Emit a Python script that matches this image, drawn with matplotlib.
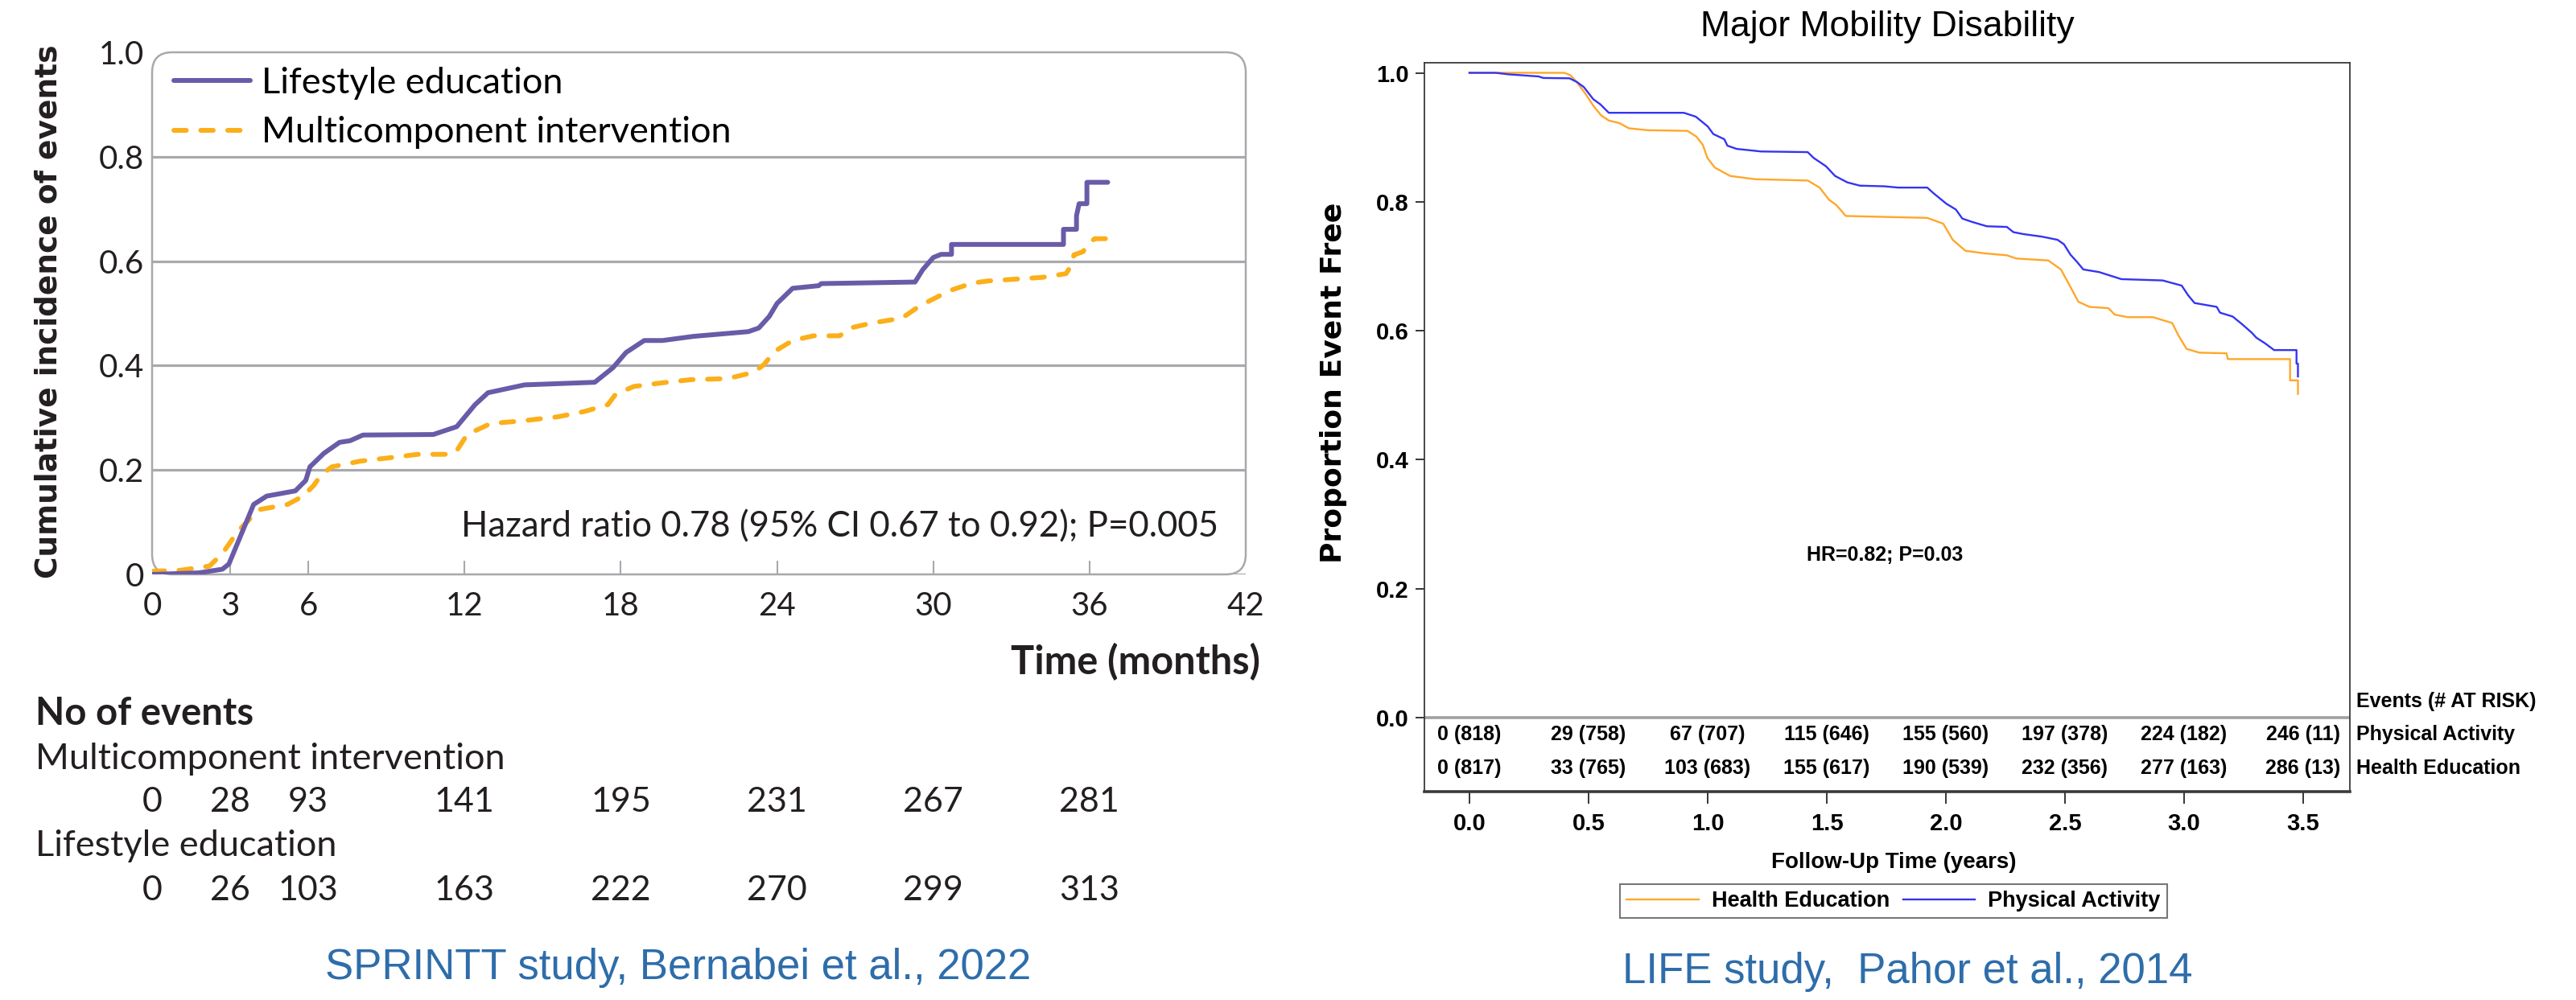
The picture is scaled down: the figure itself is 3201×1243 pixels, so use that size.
import matplotlib
matplotlib.use("Agg")
import matplotlib.pyplot as plt
from matplotlib.patches import FancyBboxPatch
from matplotlib.lines import Line2D
from matplotlib.transforms import blended_transform_factory

# ---------------- data: SPRINTT (left) ----------------
months_ticks = [0, 3, 6, 12, 18, 24, 30, 36, 42]
table_months = [0, 3, 6, 12, 18, 24, 30, 36]
events_mc = [0, 28, 93, 141, 195, 231, 267, 281]
events_le = [0, 26, 103, 163, 222, 270, 299, 313]

le_points = [(0, 0.0), (1.8, 0.003), (2.7, 0.01), (2.95, 0.02), (3.9, 0.134), (4.4, 0.15),
             (5.5, 0.16), (5.9, 0.18), (6.06, 0.206), (6.6, 0.232), (7.2, 0.253), (7.6, 0.256),
             (8.1, 0.267), (10.8, 0.268), (11.7, 0.283), (12.4, 0.325), (12.9, 0.348),
             (14.3, 0.363), (17.0, 0.368), (17.7, 0.396), (18.2, 0.425), (18.9, 0.448),
             (19.6, 0.448), (20.8, 0.456), (22.9, 0.465), (23.3, 0.472), (23.7, 0.494),
             (24.0, 0.519), (24.6, 0.548), (25.6, 0.553), (25.7, 0.557), (29.3, 0.56),
             (29.6, 0.584), (30.0, 0.607), (30.3, 0.613), (30.7, 0.613), (30.7, 0.632),
             (35.0, 0.632), (35.0, 0.661), (35.5, 0.661), (35.5, 0.687), (35.6, 0.71),
             (35.9, 0.71), (35.9, 0.751), (36.7, 0.751)]

mc_points = [(0, 0.006), (1.1, 0.008), (2.2, 0.016), (2.7, 0.04), (3.3, 0.083), (4.1, 0.124),
             (5.2, 0.134), (5.8, 0.15), (6.2, 0.17), (6.5, 0.191), (6.9, 0.206), (8.0, 0.217),
             (9.4, 0.225), (10.2, 0.23), (11.45, 0.23), (11.7, 0.237), (12.1, 0.268),
             (13.0, 0.289), (14.2, 0.294), (15.6, 0.302), (16.6, 0.312), (17.5, 0.325),
             (17.8, 0.345), (18.5, 0.36), (19.6, 0.367), (20.7, 0.373), (22.1, 0.375),
             (23.1, 0.387), (23.5, 0.402), (23.9, 0.427), (24.6, 0.448), (25.4, 0.457),
             (26.4, 0.457), (26.9, 0.473), (27.6, 0.481), (28.8, 0.491), (29.5, 0.515),
             (30.1, 0.530), (30.6, 0.543), (31.5, 0.558), (32.1, 0.562), (34.2, 0.569),
             (35.1, 0.576), (35.3, 0.592), (35.4, 0.612), (35.75, 0.618), (35.95, 0.633),
             (36.2, 0.643), (36.7, 0.643)]

# ---------------- data: LIFE (right) ----------------
years_ticks = [0.0, 0.5, 1.0, 1.5, 2.0, 2.5, 3.0, 3.5]
pa_events = [0, 29, 67, 115, 155, 197, 224, 246]
pa_risk = [818, 758, 707, 646, 560, 378, 182, 11]
he_events = [0, 33, 103, 155, 190, 232, 277, 286]
he_risk = [817, 765, 683, 617, 539, 356, 163, 13]

pa_points = [(0, 1.0), (0.11, 1.0), (0.165, 0.9976), (0.29, 0.9944), (0.31, 0.992),
             (0.42, 0.9915), (0.45, 0.986), (0.48, 0.978), (0.52, 0.959), (0.55, 0.951),
             (0.585, 0.938), (0.90, 0.938), (0.95, 0.932), (1.0, 0.917), (1.024, 0.905),
             (1.07, 0.897), (1.083, 0.887), (1.122, 0.882), (1.225, 0.878), (1.42, 0.877),
             (1.445, 0.868), (1.497, 0.855), (1.535, 0.840), (1.587, 0.830), (1.639, 0.825),
             (1.742, 0.824), (1.80, 0.822), (1.922, 0.822), (1.949, 0.813), (2.002, 0.797),
             (2.042, 0.788), (2.069, 0.774), (2.108, 0.769), (2.172, 0.762), (2.256, 0.761),
             (2.283, 0.753), (2.323, 0.750), (2.402, 0.746), (2.469, 0.741), (2.496, 0.734),
             (2.523, 0.718), (2.55, 0.707), (2.577, 0.695), (2.643, 0.691), (2.737, 0.680),
             (2.91, 0.678), (2.99, 0.670), (3.017, 0.655), (3.044, 0.643), (3.137, 0.637),
             (3.151, 0.628), (3.204, 0.622), (3.244, 0.610), (3.284, 0.597), (3.304, 0.589),
             (3.338, 0.581), (3.378, 0.570), (3.472, 0.570), (3.472, 0.549), (3.478, 0.549),
             (3.478, 0.529)]

he_points = [(0, 1.0), (0.398, 1.0), (0.423, 0.9965), (0.45, 0.986), (0.488, 0.967),
             (0.52, 0.949), (0.553, 0.934), (0.585, 0.926), (0.63, 0.922), (0.669, 0.914),
             (0.747, 0.911), (0.915, 0.910), (0.953, 0.901), (0.98, 0.888), (0.999, 0.868),
             (1.03, 0.853), (1.095, 0.840), (1.199, 0.835), (1.42, 0.833), (1.47, 0.822),
             (1.51, 0.803), (1.54, 0.795), (1.58, 0.778), (1.80, 0.776), (1.922, 0.775),
             (1.989, 0.766), (2.029, 0.741), (2.082, 0.724), (2.162, 0.720), (2.256, 0.717),
             (2.296, 0.712), (2.43, 0.709), (2.483, 0.695), (2.523, 0.668), (2.556, 0.645),
             (2.603, 0.637), (2.682, 0.635), (2.709, 0.625), (2.763, 0.621), (2.87, 0.621),
             (2.95, 0.612), (2.976, 0.593), (3.01, 0.572), (3.064, 0.566), (3.178, 0.565),
             (3.184, 0.556), (3.445, 0.556), (3.445, 0.523), (3.478, 0.523), (3.478, 0.502)]

# ---------------- figure ----------------
W, H = 3201, 1243
fig = plt.figure(figsize=(W / 100, H / 100), dpi=100)
fig.patch.set_facecolor("white")

def fx(x):
    return x / W

def fy(y):
    return 1 - y / H

LATO = ["Lato", "DejaVu Sans"]
ARIAL = ["Liberation Sans", "DejaVu Sans"]
TXT = "#231F20"
GRAY = "#A7A9AC"
PURPLE = "#6A5BA8"
ORANGE = "#FBAF1A"
CAPBLUE = "#2E6DAA"

# ---------------- left panel ----------------
axL = fig.add_axes([fx(189), fy(714), fx(1359), 649 / H])
axL.set_xlim(0, 42)
axL.set_ylim(0, 1)
axL.patch.set_visible(False)
for s in axL.spines.values():
    s.set_visible(False)

box = FancyBboxPatch((0, 0), 1, 1, boxstyle="round,pad=0,rounding_size=0.0184",
                     mutation_aspect=1359 / 649, transform=axL.transAxes,
                     facecolor="none", edgecolor=GRAY, lw=1.8, clip_on=False, zorder=1)
axL.add_patch(box)
for g in [0.2, 0.4, 0.6, 0.8]:
    axL.axhline(g, color=GRAY, lw=2.3, zorder=1)
axL.axhline(0, xmin=0.015, color=GRAY, lw=2.3, zorder=1)

le_x, le_y = zip(*le_points)
mc_x, mc_y = zip(*mc_points)
l_le, = axL.plot(le_x, le_y, color=PURPLE, lw=4.3, solid_capstyle="round",
                 solid_joinstyle="round", zorder=3, label="Lifestyle education")
l_mc, = axL.plot(mc_x, mc_y, color=ORANGE, lw=4.3, ls=(0, (2.6, 3.0)),
                 dash_capstyle="round", zorder=2, label="Multicomponent intervention")

axL.set_xticks(months_ticks)
axL.set_xticklabels([str(m) for m in months_ticks], fontfamily=LATO, color=TXT)
axL.set_yticks([0, 0.2, 0.4, 0.6, 0.8, 1.0])
axL.set_yticklabels(["0", "0.2", "0.4", "0.6", "0.8", "1.0"], fontfamily=LATO, color=TXT)
axL.tick_params(axis="x", direction="in", length=12, width=1.5, color=GRAY,
                pad=15, labelsize=29)
axL.tick_params(axis="y", length=0, pad=7, labelsize=29)
xt = axL.xaxis.get_major_ticks()
xt[0].tick1line.set_visible(False)
xt[-1].tick1line.set_visible(False)

axL.legend(handles=[l_le, l_mc], loc="upper left", bbox_to_anchor=(0.02, 0.972),
           frameon=False, prop={"family": LATO, "size": 32.5}, handlelength=2.1,
           handletextpad=0.3, labelspacing=0.45, borderpad=0, borderaxespad=0)

axL.text(40.96, 0.091, "Hazard ratio 0.78 (95% CI 0.67 to 0.92); P=0.005", ha="right",
         va="center", fontsize=31.5, fontfamily=LATO, color=TXT)

fig.text(fx(1566), fy(823), "Time (months)", ha="right", va="center", fontsize=35,
         fontweight="bold", fontfamily=LATO, color=TXT)
fig.text(fx(61), fy(387), "Cumulative incidence of events", rotation=90, ha="center",
         va="center", fontsize=27, fontweight="bold", fontfamily="DejaVu Sans", color=TXT)

# number of events table
fig.text(fx(44), fy(887), "No of events", ha="left", va="center", fontsize=34,
         fontweight="bold", fontfamily=LATO, color=TXT)
fig.text(fx(44), fy(943), "Multicomponent intervention", ha="left", va="center",
         fontsize=32.5, fontfamily=LATO, color=TXT)
fig.text(fx(44), fy(1052), "Lifestyle education", ha="left", va="center",
         fontsize=32.5, fontfamily=LATO, color=TXT)
trL = blended_transform_factory(axL.transData, fig.transFigure)
for m, a, b in zip(table_months, events_mc, events_le):
    fig.text(m, fy(997), str(a), transform=trL, ha="center", va="center", fontsize=31,
             fontfamily=LATO, color=TXT)
    fig.text(m, fy(1107), str(b), transform=trL, ha="center", va="center", fontsize=31,
             fontfamily=LATO, color=TXT)

fig.text(fx(843), fy(1203), "SPRINTT study, Bernabei et al., 2022", ha="center",
         va="center", fontsize=38, fontfamily=ARIAL, color=CAPBLUE)

# ---------------- right panel ----------------
axR = fig.add_axes([fx(1770), fy(984), fx(1150), 906 / H])
axR.set_xlim(-0.189, 3.696)
axR.set_ylim(-0.1148, 1.0156)
for side, s in axR.spines.items():
    s.set_color("#3A3A3A")
    s.set_linewidth(1.3)
axR.spines["bottom"].set_linewidth(2.6)
axR.axhline(0, color="#A0A0A0", lw=2.6, zorder=1)

BLUE = "#3434F2"
LORANGE = "#FFA62B"
pa_x, pa_y = zip(*pa_points)
he_x, he_y = zip(*he_points)
l_he, = axR.plot(he_x, he_y, color=LORANGE, lw=1.7, zorder=2, label="Health Education")
l_pa, = axR.plot(pa_x, pa_y, color=BLUE, lw=1.7, zorder=3, label="Physical Activity")

axR.set_xticks(years_ticks)
axR.set_xticklabels([f"{v:.1f}" for v in years_ticks], fontfamily=ARIAL,
                    fontweight="bold")
axR.set_yticks([0, 0.2, 0.4, 0.6, 0.8, 1.0])
axR.set_yticklabels(["0.0", "0.2", "0.4", "0.6", "0.8", "1.0"], fontfamily=ARIAL,
                    fontweight="bold")
axR.tick_params(axis="x", direction="out", length=11, width=1.1, pad=8, labelsize=21)
axR.tick_params(axis="y", direction="out", length=8, width=1.1, pad=6, labelsize=21)

axR.text(1.743, 0.252, "HR=0.82; P=0.03", ha="center", va="center", fontsize=18,
         fontweight="bold", fontfamily=ARIAL)

for t, e, r in zip(years_ticks, pa_events, pa_risk):
    axR.text(t, -0.026, f"{e} ({r})", ha="center", va="center", fontsize=18,
             fontweight="bold", fontfamily=ARIAL)
for t, e, r in zip(years_ticks, he_events, he_risk):
    axR.text(t, -0.079, f"{e} ({r})", ha="center", va="center", fontsize=18,
             fontweight="bold", fontfamily=ARIAL)

trR = blended_transform_factory(axR.transAxes, axR.transData)
axR.text(1.007, 0.025, "Events (# AT RISK)", transform=trR, ha="left", va="center",
         fontsize=18, fontweight="bold", fontfamily=ARIAL, clip_on=False)
axR.text(1.007, -0.026, "Physical Activity", transform=trR, ha="left", va="center",
         fontsize=18, fontweight="bold", fontfamily=ARIAL, clip_on=False)
axR.text(1.007, -0.079, "Health Education", transform=trR, ha="left", va="center",
         fontsize=18, fontweight="bold", fontfamily=ARIAL, clip_on=False)

fig.text(fx(2345), fy(33), "Major Mobility Disability", ha="center", va="center",
         fontsize=32, fontfamily=ARIAL)
fig.text(fx(2353), fy(1072), "Follow-Up Time (years)", ha="center", va="center",
         fontsize=20, fontweight="bold", fontfamily=ARIAL)
fig.text(fx(1657), fy(476), "Proportion Event Free", rotation=90, ha="center",
         va="center", fontsize=26, fontweight="bold", fontfamily="DejaVu Sans")

leg = fig.legend(handles=[l_he, l_pa], loc="center", bbox_to_anchor=(fx(2353), fy(1120)),
                 ncol=2, frameon=True, fancybox=False, edgecolor="#555555",
                 prop={"family": ARIAL, "size": 19.5, "weight": "bold"}, handlelength=3.3,
                 handletextpad=0.6, columnspacing=0.6, borderpad=0.3)
leg.get_frame().set_linewidth(1.5)

fig.text(fx(2370), fy(1208), "LIFE study,  Pahor et al., 2014", ha="center",
         va="center", fontsize=38, fontfamily=ARIAL, color=CAPBLUE)

fig.savefig("out.png", dpi=100, facecolor="white")
